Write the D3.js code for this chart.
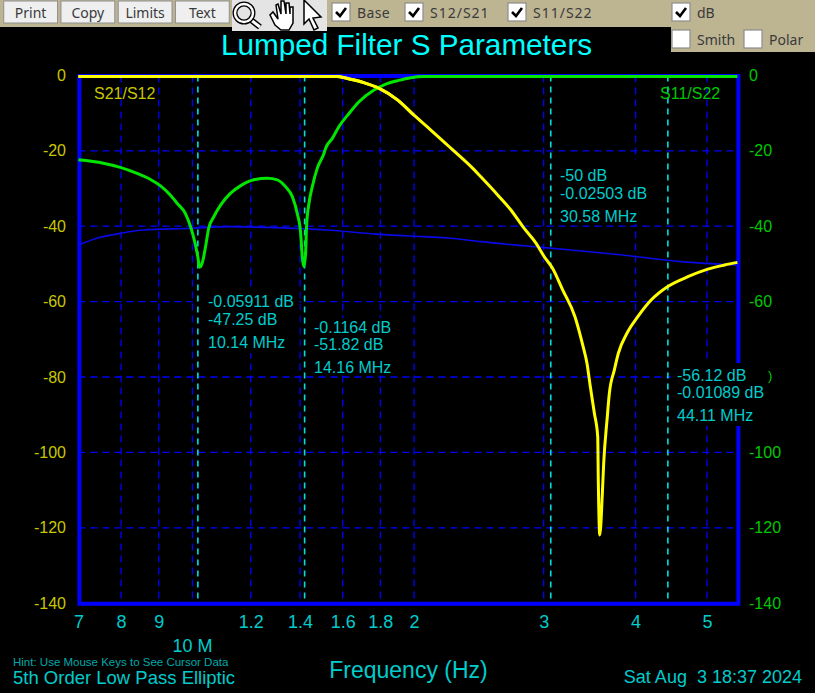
<!DOCTYPE html>
<html>
<head>
<meta charset="utf-8">
<script src="https://cdn.jsdelivr.net/npm/d3@7"></script>
<style>
  html, body { margin: 0; padding: 0; background: #000; overflow: hidden; }
  svg { display: block; font-family: "Liberation Sans", Arial, sans-serif; }
  .ui { font-family: "Noto Sans", sans-serif; font-size: 14px; fill: #3a3a3a; }
</style>
</head>
<body>
<svg width="815" height="693"></svg>
<script>
const DB_TICKS = [0, -20, -40, -60, -80, -100, -120, -140];
// the -80 on the right is hidden under a cursor readout in the original
const DB_TICKS_RIGHT = [0, -20, -40, -60, -100, -120, -140];
const FREQ_TICKS = [7, 8, 9, 10, 12, 14, 16, 18, 20, 30, 40, 50];
const FREQ_LABELS = ["7", "8", "9", "", "1.2", "1.4", "1.6", "1.8", "2", "3", "4", "5"];

// S11/S22 in MHz and dB
const S11_FREQ = [7, 7.57, 7.98, 8.41, 8.77, 9.05, 9.33, 9.53, 9.78, 9.94, 10.06, 10.17, 10.23, 10.31, 10.42, 10.52, 10.69, 10.92, 11.26, 11.62, 12.12, 12.64, 13.04, 13.38, 13.67, 13.88, 14.03, 14.1, 14.17, 14.25, 14.29, 14.4, 14.55, 14.78, 15.09, 15.17, 15.49, 15.81, 16.32, 16.84, 17.65, 18.31, 18.99, 19.8, 20.62, 55];
const S11_DB = [-22.4, -23.3, -24.4, -26, -27.6, -29.3, -31.7, -33.9, -36.6, -40.1, -43.7, -48.1, -50.9, -49.8, -45.4, -40.6, -37.5, -34.4, -31.3, -29.3, -27.7, -27.3, -27.7, -29.5, -32.2, -36.6, -41.9, -48.1, -50.7, -47.2, -40.1, -33.9, -29.5, -24.6, -20.7, -19.3, -16.7, -13.6, -10.1, -7, -3.9, -2.3, -1.4, -0.6, -0.3, -0.3];

// S21/S12
const S21_FREQ = [7, 15.7, 15.9, 16.4, 17.09, 17.91, 18.99, 19.98, 21.08, 22.44, 24.02, 24.65, 25.98, 27.08, 28.23, 29.29, 30.06, 30.86, 31.84, 33.09, 33.9, 34.36, 34.72, 35.16, 35.53, 35.6, 35.76, 36.05, 36.2, 36.58, 36.85, 37.43, 37.9, 39.03, 40.28, 41.99, 44.24, 47.11, 50.15, 52.83, 55];
const S21_DB = [-0.3, -0.3, -0.4, -1, -1.9, -3.4, -6.5, -10.5, -14.5, -19.3, -24.6, -26.9, -31.7, -35.7, -40.6, -44.5, -48.1, -51.2, -56.9, -64, -71.5, -76.4, -82.6, -89.6, -95.8, -108.2, -121.9, -110.8, -102.9, -91.4, -84.3, -78.1, -73.7, -68, -64, -59.6, -56, -53.4, -51.4, -50.3, -49.6];

// base trace
const BASE_FREQ = [7, 7.42, 7.98, 8.58, 9.83, 11.26, 12.49, 15.25, 17.74, 19.8, 22.44, 24.65, 28.23, 32.68, 37.83, 46.13, 55];
const BASE_DB = [-45, -43.2, -41.9, -41, -40.6, -40.1, -40.3, -41, -42.1, -42.6, -43.2, -44.1, -45.2, -46.3, -47.5, -49.4, -50.3];

const MARKER_FREQ = [10.14, 14.16, 30.58, 44.11];
const MARKER_TEXT = [
  ["-0.05911 dB", "-47.25 dB", "10.14 MHz"],
  ["-0.1164 dB", "-51.82 dB", "14.16 MHz"],
  ["-50 dB", "-0.02503 dB", "30.58 MHz"],
  ["-56.12 dB", "-0.01089 dB", "44.11 MHz"],
];

const BUTTONS = ["Print", "Copy", "Limits", "Text"];

const TAN = "#bdb492";
const CYAN = "#00cccc";
const BLUE = "#0000ff";

const xScale = d3.scaleLog().domain([7, 55]).range([78.4, 737.4]);
const yScale = d3.scaleLinear().domain([0, -140]).range([75.4, 603.2]);

const svg = d3.select("svg");

svg.append("rect").attr("width", 815).attr("height", 693).attr("fill", "#000");

// title
svg.append("text").attr("x", 406.5).attr("y", 55).attr("text-anchor", "middle")
  .attr("font-size", 29.7).attr("fill", "#00ffff").text("Lumped Filter S Parameters");

// grid
svg.append("g").selectAll("line").data(DB_TICKS.slice(1, -1)).enter().append("line")
  .attr("x1", xScale(7)).attr("x2", xScale(55))
  .attr("y1", (d) => yScale(d)).attr("y2", (d) => yScale(d))
  .attr("stroke", BLUE).attr("stroke-width", 1.3).attr("stroke-dasharray", "7,5");

svg.append("g").selectAll("line").data(FREQ_TICKS.slice(1)).enter().append("line")
  .attr("x1", (d) => xScale(d)).attr("x2", (d) => xScale(d))
  .attr("y1", yScale(0)).attr("y2", yScale(-140))
  .attr("stroke", BLUE).attr("stroke-width", 1.3).attr("stroke-dasharray", "7,5");

// plot frame
svg.append("rect")
  .attr("x", xScale(7) + 1).attr("y", yScale(0) + 0.6)
  .attr("width", xScale(55) - xScale(7)).attr("height", yScale(-140) - yScale(0))
  .attr("fill", "none").attr("stroke", BLUE).attr("stroke-width", 4);

// black boxes the cursor readouts leave behind
const boxes = [
  [193, 291, 106.5, 62],
  [308, 318, 89, 57],
  [553, 160, 84, 64],
  [671, 363, 101, 63],
];
svg.append("g").selectAll("rect").data(boxes).enter().append("rect")
  .attr("x", (d) => d[0]).attr("y", (d) => d[1])
  .attr("width", (d) => d[2]).attr("height", (d) => d[3])
  .attr("fill", "#000");

// cursors
svg.append("g").selectAll("line").data(MARKER_FREQ).enter().append("line")
  .attr("x1", (d) => xScale(d) + 1).attr("x2", (d) => xScale(d) + 1)
  .attr("y1", yScale(0)).attr("y2", yScale(-140))
  .attr("stroke", "#00dddd").attr("stroke-width", 1.6).attr("stroke-dasharray", "6,5");

// traces
const line = d3.line().curve(d3.curveMonotoneX).x((d) => xScale(d[0])).y((d) => yScale(d[1]));
const drawTrace = (freq, db, color, width) =>
  svg.append("path")
    .datum(d3.zip(freq, db))
    .attr("d", line)
    .attr("fill", "none")
    .attr("stroke", color)
    .attr("stroke-width", width)
    .attr("stroke-linejoin", "round");

drawTrace(BASE_FREQ, BASE_DB, "#0a0ae6", 1.6);
drawTrace(S21_FREQ, S21_DB, "#ffff00", 3);
drawTrace(S11_FREQ, S11_DB, "#00e600", 3);
// yellow stays on top at the crossing near 18 MHz
drawTrace(S21_FREQ.slice(0, 8), S21_DB.slice(0, 8), "#ffff00", 3);

// axes
const leftAxis = d3.axisLeft(yScale).tickValues(DB_TICKS).tickSize(0).tickPadding(0).tickFormat((d) => d);
svg.append("g").attr("transform", "translate(66,0)").call(leftAxis)
  .call((g) => g.select(".domain").remove())
  .selectAll("text").attr("fill", "#c8c800").attr("font-size", 16)
  .attr("font-family", "Liberation Sans");

const rightAxis = d3.axisRight(yScale).tickValues(DB_TICKS_RIGHT).tickSize(0).tickPadding(0).tickFormat((d) => d);
svg.append("g").attr("transform", "translate(749,0)").call(rightAxis)
  .call((g) => g.select(".domain").remove())
  .selectAll("text").attr("fill", "#00c800").attr("font-size", 16)
  .attr("font-family", "Liberation Sans");

const bottomAxis = d3.axisBottom(xScale).tickValues(FREQ_TICKS).tickSize(0).tickPadding(0)
  .tickFormat((d, i) => FREQ_LABELS[i]);
svg.append("g").attr("transform", "translate(0,615.5)").call(bottomAxis)
  .call((g) => g.select(".domain").remove())
  .selectAll("text").attr("fill", CYAN).attr("font-size", 18)
  .attr("font-family", "Liberation Sans");

// readouts
const readoutX = [208, 314, 560, 677];
const readoutY = [[306.7, 325, 347.7], [332.7, 350, 373], [181, 199, 221.7], [380.7, 398, 421]];
MARKER_TEXT.forEach((rows, i) => {
  rows.forEach((row, j) => {
    svg.append("text").attr("x", readoutX[i]).attr("y", readoutY[i][j])
      .attr("font-size", 16).attr("fill", CYAN).text(row);
  });
});
svg.append("text").attr("x", 768).attr("y", 380).attr("font-size", 13).attr("fill", "#00c800").text(")");

// labels
svg.append("text").attr("x", 94).attr("y", 99).attr("font-size", 16).attr("fill", "#c8c800").text("S21/S12");
svg.append("text").attr("x", 660).attr("y", 99).attr("font-size", 16).attr("fill", "#00c800").text("S11/S22");
svg.append("text").attr("x", xScale(10)).attr("y", 652).attr("text-anchor", "middle")
  .attr("font-size", 18).attr("fill", CYAN).text("10 M");
svg.append("text").attr("x", 408.5).attr("y", 678).attr("text-anchor", "middle")
  .attr("font-size", 23).attr("fill", CYAN).text("Frequency (Hz)");
svg.append("text").attr("x", 13).attr("y", 666).attr("font-size", 11.5).attr("fill", "#00aaaa")
  .text("Hint: Use Mouse Keys to See Cursor Data");
svg.append("text").attr("x", 13).attr("y", 684).attr("font-size", 18.5).attr("fill", CYAN)
  .text("5th Order Low Pass Elliptic");
svg.append("text").attr("x", 802).attr("y", 683).attr("text-anchor", "end").attr("xml:space", "preserve")
  .style("white-space", "pre").attr("font-size", 18).attr("fill", CYAN).text("Sat Aug  3 18:37 2024");

// toolbar
svg.append("rect").attr("width", 815).attr("height", 27).attr("fill", TAN);
svg.append("rect").attr("x", 671).attr("width", 144).attr("height", 52).attr("fill", TAN);

const buttonX = d3.scaleBand().domain(BUTTONS).range([2, 231]).paddingInner(0.06).paddingOuter(0.03);
const buttons = svg.append("g").selectAll("g").data(BUTTONS).enter().append("g")
  .attr("transform", (d) => `translate(${buttonX(d)},1)`);
buttons.append("rect").attr("width", buttonX.bandwidth()).attr("height", 22)
  .attr("fill", "#efefef").attr("stroke", "#8f8f8f").attr("stroke-width", 1);
buttons.append("text").attr("class", "ui").attr("x", buttonX.bandwidth() / 2).attr("y", 16.5)
  .attr("text-anchor", "middle").text((d) => d);

// tool icons
svg.append("rect").attr("x", 232).attr("width", 95).attr("height", 31).attr("fill", "#e4e4e4");
const icons = svg.append("g").attr("fill", "#fff").attr("stroke", "#000").attr("stroke-width", 1.5);
icons.append("line").attr("x1", 251).attr("y1", 20).attr("x2", 260).attr("y2", 27).attr("stroke-width", 6);
icons.append("line").attr("x1", 251).attr("y1", 20).attr("x2", 260).attr("y2", 27).attr("stroke-width", 3).attr("stroke", "#fff");
icons.append("circle").attr("cx", 244).attr("cy", 13).attr("r", 9).attr("stroke-width", 5).attr("fill", "none");
icons.append("circle").attr("cx", 244).attr("cy", 13).attr("r", 9).attr("stroke-width", 2.4).attr("fill", "none").attr("stroke", "#fff");
icons.append("path").attr("d", "M270 15 L275 25 L281 30 L289 30 L293 23 L293 7 L290 7 L290 14 L289 3 L286 3 L286 14 L284 1 L281 1 L281 14 L278 4 L276 5 L278 19 L273 12 Z");
icons.append("path").attr("d", "M304 0 L304 24 L309 19 L314 30 L318 28 L313 18 L321 17 Z");

// checkboxes
const checks = [
  { x: 332, y: 3, on: true, label: "Base", spacing: 0.4 },
  { x: 405, y: 3, on: true, label: "S12/S21", spacing: 1 },
  { x: 508, y: 3, on: true, label: "S11/S22", spacing: 1 },
  { x: 672, y: 3, on: true, label: "dB", spacing: 0 },
  { x: 672, y: 30, on: false, label: "Smith", spacing: 0 },
  { x: 744, y: 30, on: false, label: "Polar", spacing: 0 },
];
const boxGroup = svg.append("g").selectAll("g").data(checks).enter().append("g")
  .attr("transform", (d) => `translate(${d.x},${d.y})`);
boxGroup.append("rect").attr("width", 18).attr("height", 18).attr("fill", "#fff")
  .attr("stroke", "#8c8c8c").attr("stroke-width", 1.2);
boxGroup.filter((d) => d.on).append("path").attr("d", "M4 9 L8 13 L14 5")
  .attr("fill", "none").attr("stroke", "#000").attr("stroke-width", 2.6);
boxGroup.append("text").attr("class", "ui").attr("x", 25).attr("y", 15)
  .attr("letter-spacing", (d) => d.spacing).text((d) => d.label);
</script>
</body>
</html>
